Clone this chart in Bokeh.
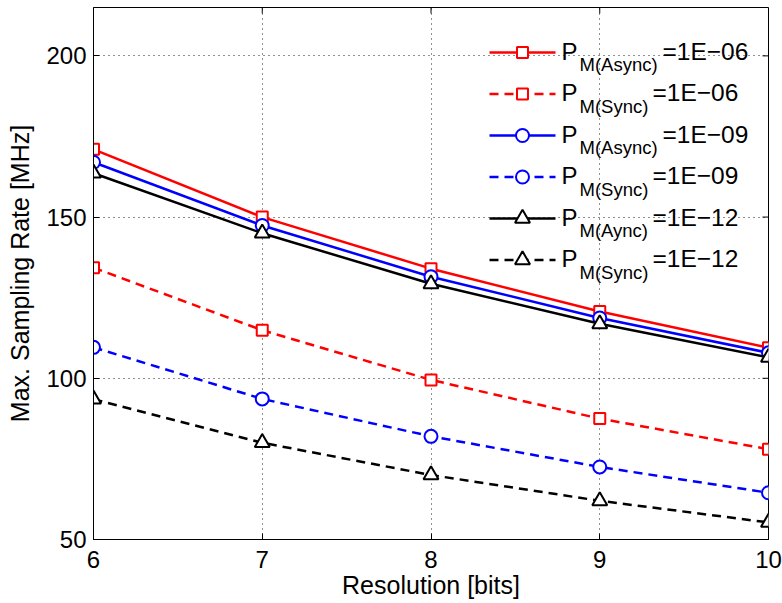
from bokeh.plotting import figure
from bokeh.models import FixedTicker, Label, Range1d
from bokeh.embed import file_html
from bokeh.resources import INLINE

# ---- data ----
resolution = [6, 7, 8, 9, 10]
async_1e06 = [171.0, 150.0, 134.0, 120.7, 109.5]
sync_1e06 = [134.3, 114.9, 99.5, 87.5, 78.0]
async_1e09 = [167.0, 147.4, 131.5, 118.7, 107.9]
sync_1e09 = [109.6, 93.6, 82.0, 72.5, 64.5]
async_1e12 = [163.6, 145.0, 129.3, 116.9, 106.5]
sync_1e12 = [93.5, 80.0, 70.0, 62.0, 55.3]

x_ticks = [6, 7, 8, 9, 10]
y_ticks = [50, 100, 150, 200]
x_label = "Resolution [bits]"
y_label = "Max. Sampling Rate [MHz]"

legend_sub = ["M(Async)", "M(Sync)", "M(Async)", "M(Sync)", "M(Aync)", "M(Sync)"]
legend_val = ["=1E\u221206", "=1E\u221206", "=1E\u221209", "=1E\u221209", "=1E\u221212", "=1E\u221212"]

series = [
    (async_1e06, "#ff0000", "solid", "square"),
    (sync_1e06, "#ff0000", "dashed", "square"),
    (async_1e09, "#0000ff", "solid", "circle"),
    (sync_1e09, "#0000ff", "dashed", "circle"),
    (async_1e12, "#000000", "solid", "triangle"),
    (sync_1e12, "#000000", "dashed", "triangle"),
]
msize = {"square": 11, "circle": 13, "triangle": 15}

FONT = "Liberation Sans"
W, H = 782, 603
L, R, T, B = 93, 14, 7, 64
X0, X1, Y0, Y1 = 6, 10, 50, 215

p = figure(width=W, height=H, x_range=Range1d(X0, X1), y_range=Range1d(Y0, Y1),
           output_backend="svg", toolbar_location=None,
           min_border_left=L, min_border_right=R, min_border_top=T, min_border_bottom=B)
p.background_fill_color = "white"
p.border_fill_color = "white"
p.outline_line_color = "black"
p.outline_line_width = 1
p.outline_line_alpha = 1

for ax in (p.xaxis[0], p.yaxis[0]):
    ax.major_tick_in = 6
    ax.major_tick_out = 0
    ax.minor_tick_line_color = None
    ax.axis_line_color = "black"
    ax.major_tick_line_color = "black"
    ax.major_label_text_font = FONT
    ax.major_label_text_font_size = "24px"
    ax.major_label_text_color = "black"
    ax.axis_label_text_font = FONT
    ax.axis_label_text_font_size = "25px"
    ax.axis_label_text_font_style = "normal"
    ax.axis_label_text_color = "black"

p.xaxis.ticker = FixedTicker(ticks=x_ticks)
p.yaxis.ticker = FixedTicker(ticks=y_ticks)
p.xaxis.axis_label = x_label
p.yaxis.axis_label = y_label
p.xaxis.major_label_standoff = 11
p.xaxis.axis_label_standoff = 0
p.yaxis.major_label_standoff = 7
p.yaxis.axis_label_standoff = 9

for g in (p.xgrid[0], p.ygrid[0]):
    g.grid_line_color = "#222222"
    g.grid_line_dash = "1 4"
    g.grid_line_width = 1
p.xgrid.ticker = FixedTicker(ticks=x_ticks)
p.ygrid.ticker = FixedTicker(ticks=y_ticks)

fw = W - L - R
fh = H - T - B


def sx(px):
    return X0 + (px - L) * (X1 - X0) / fw


def sy(py):
    return Y1 - (py - T) * (Y1 - Y0) / fh


# inward ticks on the top and right frame edges (box on)
tick_dx = 6 * (X1 - X0) / fw
tick_dy = 6 * (Y1 - Y0) / fh
p.segment(x0=x_ticks, y0=[Y1] * len(x_ticks), x1=x_ticks, y1=[Y1 - tick_dy] * len(x_ticks),
          line_color="black", line_width=1)
p.segment(x0=[X1] * len(y_ticks), y0=y_ticks, x1=[X1 - tick_dx] * len(y_ticks), y1=y_ticks,
          line_color="black", line_width=1)

for ys, c, dash, mk in series:
    p.line(resolution, ys, line_color=c, line_width=2.5,
           line_dash=("solid" if dash == "solid" else "9 6"))
    p.scatter(resolution, ys, marker=mk, size=msize[mk], line_color=c,
              fill_color="white", line_width=2)

# ---- legend (manual, to allow subscripts) ----
for i, (ys, c, dash, mk) in enumerate(series):
    ry = 52 + 41.5 * i
    p.line([sx(489), sx(555)], [sy(ry), sy(ry)], line_color=c, line_width=2.5,
           line_dash=("solid" if dash == "solid" else "9 6"))
    p.scatter([sx(522)], [sy(ry)], marker=mk, size=msize[mk], line_color=c,
              fill_color="white", line_width=2)
    p.add_layout(Label(x=sx(561), y=sy(ry - 1.5), text="P", text_font=FONT,
                       text_font_size="24px", text_color="black",
                       text_baseline="alphabetic", text_align="left"))
    p.add_layout(Label(x=sx(579), y=sy(ry + 12), text=legend_sub[i], text_font=FONT,
                       text_font_size="18.5px", text_color="black",
                       text_baseline="alphabetic", text_align="left"))
    eqx = 662 if legend_sub[i] == "M(Async)" else 652
    p.add_layout(Label(x=sx(eqx), y=sy(ry - 1.5), text=legend_val[i], text_font=FONT,
                       text_font_size="24.5px", text_color="black",
                       text_baseline="alphabetic", text_align="left"))

open("out.html", "w").write(file_html(p, INLINE))
